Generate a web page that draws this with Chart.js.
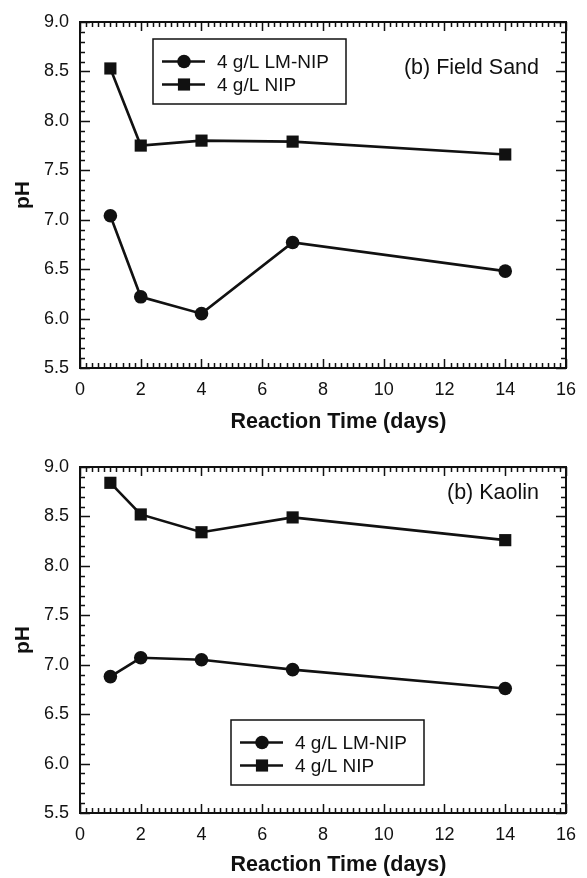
<!DOCTYPE html>
<html>
<head>
<meta charset="utf-8">
<title>pH vs Reaction Time</title>
<script src="https://cdn.jsdelivr.net/npm/chart.js@4.4.1/dist/chart.umd.min.js"></script>
<style>
  html, body { margin: 0; padding: 0; background: #fff; }
  #wrap { position: relative; width: 587px; height: 878px; overflow: hidden; }
  .panel { position: absolute; left: 0; width: 587px; }
  #panel-top { top: 0; height: 440px; }
  #panel-bottom { top: 436px; height: 442px; }
</style>
</head>
<body>
<div id="wrap">
  <div class="panel" id="panel-top"><canvas id="chart-sand" width="587" height="440"></canvas></div>
  <div class="panel" id="panel-bottom"><canvas id="chart-kaolin" width="587" height="442"></canvas></div>
</div>
<script>
// Reaction time (days) sampled in both experiments
const days = [1, 2, 4, 7, 14];

// (b) Field Sand
const sandLmNip = [7.04, 6.22, 6.05, 6.77, 6.48];
const sandNip = [8.53, 7.75, 7.80, 7.79, 7.66];

// (b) Kaolin
const kaolinLmNip = [6.88, 7.07, 7.05, 6.95, 6.76];
const kaolinNip = [8.84, 8.52, 8.34, 8.49, 8.26];

const seriesLabels = ['4 g/L LM-NIP', '4 g/L NIP'];
const xTicks = [0, 2, 4, 6, 8, 10, 12, 14, 16];
const yTicks = [5.5, 6.0, 6.5, 7.0, 7.5, 8.0, 8.5, 9.0];

const FONT = '"Liberation Sans", Arial, Helvetica, sans-serif';
const INK = '#111';

// Box frame with inward major/minor ticks on all four sides
const framePlugin = {
    id: 'frame',
    afterDatasetsDraw(chart) {
        const ctx = chart.ctx;
        const area = chart.chartArea;
        const xs = chart.scales.x;
        const ys = chart.scales.y;

        ctx.save();
        ctx.strokeStyle = INK;
        ctx.lineWidth = 1.5;
        ctx.beginPath();

        // x axis: minor every 0.2, major every 2
        for (let i = 0; i <= 80; i++) {
            const px = Math.round(xs.getPixelForValue(i * 0.2)) + 0.5;
            const len = i % 10 === 0 ? 9 : 5;
            ctx.moveTo(px, area.bottom);
            ctx.lineTo(px, area.bottom - len);
            ctx.moveTo(px, area.top);
            ctx.lineTo(px, area.top + len);
        }

        // y axis: minor every 0.1, major every 0.5
        for (let i = 0; i <= 35; i++) {
            const py = Math.round(ys.getPixelForValue(5.5 + i * 0.1)) + 0.5;
            const len = i % 5 === 0 ? 10 : 5;
            ctx.moveTo(area.left, py);
            ctx.lineTo(area.left + len, py);
            ctx.moveTo(area.right, py);
            ctx.lineTo(area.right - len, py);
        }
        ctx.stroke();

        ctx.lineWidth = 2;
        ctx.strokeRect(area.left, area.top, area.right - area.left, area.bottom - area.top);
        ctx.restore();
    }
};

// Boxed legend, panel caption and x axis title (sits a bit right of centre)
const boxLegendPlugin = {
    id: 'boxLegend',
    afterDraw(chart, args, opts) {
        const ctx = chart.ctx;
        const box = opts.box;

        ctx.save();
        ctx.strokeStyle = INK;
        ctx.fillStyle = INK;
        ctx.lineWidth = 1.5;
        ctx.strokeRect(box.x, box.y, box.w, box.h);

        ctx.font = '19px ' + FONT;
        ctx.textAlign = 'left';
        ctx.textBaseline = 'middle';

        chart.data.datasets.forEach((ds, i) => {
            const rowY = box.y + (i === 0 ? 22.5 : 45.5);
            ctx.lineWidth = ds.borderWidth;
            ctx.beginPath();
            ctx.moveTo(box.x + 9, rowY);
            ctx.lineTo(box.x + 52, rowY);
            ctx.stroke();

            const cx = box.x + 31;
            ctx.beginPath();
            if (ds.pointStyle === 'rect') {
                const half = Math.SQRT1_2 * ds.pointRadius;
                ctx.rect(cx - half, rowY - half, half * 2, half * 2);
            } else {
                ctx.arc(cx, rowY, ds.pointRadius, 0, Math.PI * 2);
            }
            ctx.fill();

            ctx.fillText(ds.label, box.x + 64, rowY + 1);
        });

        // panel caption, right aligned
        ctx.font = '21.5px ' + FONT;
        ctx.textAlign = 'right';
        ctx.fillText(opts.caption.text, opts.caption.x, opts.caption.y);

        // x axis title
        ctx.font = 'bold 21.5px ' + FONT;
        ctx.textAlign = 'center';
        ctx.textBaseline = 'alphabetic';
        ctx.fillText(opts.xTitle.text, opts.xTitle.x, opts.xTitle.y);
        ctx.restore();
    }
};

function buildChart(canvasId, lmNip, nip, layout) {
    const ctx = document.getElementById(canvasId).getContext('2d');

    return new Chart(ctx, {
        type: 'line',
        data: {
            datasets: [{
                label: seriesLabels[0],
                data: days.map((d, i) => ({ x: d, y: lmNip[i] })),
                borderColor: INK,
                backgroundColor: INK,
                borderWidth: 2.6,
                pointStyle: 'circle',
                pointRadius: 6.8,
                pointBorderWidth: 0,
                tension: 0
            }, {
                label: seriesLabels[1],
                data: days.map((d, i) => ({ x: d, y: nip[i] })),
                borderColor: INK,
                backgroundColor: INK,
                borderWidth: 2.6,
                pointStyle: 'rect',
                pointRadius: 8.6,
                pointBorderWidth: 0,
                tension: 0
            }]
        },
        options: {
            responsive: false,
            animation: false,
            devicePixelRatio: 1,
            layout: { padding: { top: layout.top, right: 11, bottom: 0, left: 0 } },
            plugins: {
                legend: { display: false },
                tooltip: { enabled: false },
                boxLegend: {
                    box: layout.legend,
                    caption: layout.caption,
                    xTitle: { text: 'Reaction Time (days)', x: 338.5, y: layout.titleBaseline }
                }
            },
            scales: {
                x: {
                    type: 'linear',
                    min: 0,
                    max: 16,
                    afterBuildTicks: scale => { scale.ticks = xTicks.map(v => ({ value: v })); },
                    afterFit: scale => { scale.height = layout.xHeight; },
                    grid: { display: false, drawTicks: false },
                    border: { display: false },
                    ticks: {
                        padding: 11,
                        color: INK,
                        font: { family: FONT, size: 18 },
                        callback: v => String(v)
                    },
                    title: { display: false }
                },
                y: {
                    type: 'linear',
                    min: 5.5,
                    max: 9.0,
                    afterBuildTicks: scale => { scale.ticks = yTicks.map(v => ({ value: v })); },
                    afterFit: scale => { scale.width = 80; },
                    grid: { display: false, drawTicks: false },
                    border: { display: false },
                    ticks: {
                        padding: 11,
                        color: INK,
                        font: { family: FONT, size: 18 },
                        callback: v => Number(v).toFixed(1)
                    },
                    title: {
                        display: true,
                        text: 'pH',
                        color: INK,
                        font: { family: FONT, size: 21, weight: 'bold', lineHeight: 1 },
                        padding: { top: 13, bottom: 0 }
                    }
                }
            }
        },
        plugins: [framePlugin, boxLegendPlugin]
    });
}

document.addEventListener('DOMContentLoaded', function() {
    buildChart('chart-sand', sandLmNip, sandNip, {
        top: 22,
        xHeight: 72,
        titleBaseline: 428,
        legend: { x: 153, y: 39, w: 193, h: 65 },
        caption: { text: '(b) Field Sand', x: 539, y: 68 }
    });

    buildChart('chart-kaolin', kaolinLmNip, kaolinNip, {
        top: 31,
        xHeight: 65,
        titleBaseline: 435,
        legend: { x: 231, y: 284, w: 193, h: 65 },
        caption: { text: '(b) Kaolin', x: 539, y: 57 }
    });
});
</script>
</body>
</html>
